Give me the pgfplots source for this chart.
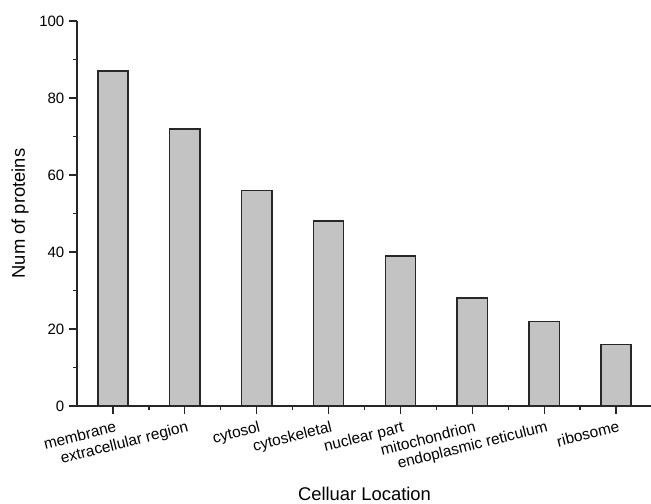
\documentclass[border=0pt]{standalone}
\usepackage{pgfplots}
\pgfplotsset{compat=1.18}
\usepackage{fontspec}
\setmainfont{Liberation Sans}
\definecolor{barfill}{RGB}{195,195,195}
\definecolor{barline}{RGB}{40,40,40}
\begin{document}
\begin{tikzpicture}
\begin{axis}[
 scale only axis, width=431.25pt, height=288.75pt,
 xmin=-0.5, xmax=7.5, ymin=0, ymax=100,
 axis x line*=bottom, axis y line*=left,
 axis line style={line width=1pt, color=black!85},
 xtick={0,...,7},
 xticklabels={membrane, extracellular region, cytosol, cytoskeletal, nuclear part, mitochondrion, endoplasmic reticulum, ribosome},
 minor x tick num=1, ytick={0,20,...,100}, minor y tick num=1,
 tick align=outside, major tick length=6pt, minor tick length=3pt,
 every tick/.style={black!85, line width=1pt},
 xticklabel style={font=\fontsize{11.6}{12}\selectfont, rotate=14, anchor=north east, inner sep=0pt, yshift=-5pt},
 yticklabel style={font=\fontsize{11.25}{12}\selectfont},
 /pgf/number format/assume math mode=true,
 xlabel={Celluar Location}, ylabel={Num of proteins},
 every axis x label/.style={at={(axis description cs:0.5,-0.2442)}, anchor=base, font=\fontsize{13.8}{15}\selectfont},
 every axis y label/.style={at={(axis description cs:-0.0991,0.5)}, rotate=90, anchor=center, font=\fontsize{13.8}{15}\selectfont},
 ybar, bar width=0.42,
]
\addplot[fill=barfill, draw=barline, line width=1.1pt] coordinates {(0,87) (1,72) (2,56) (3,48) (4,39) (5,28) (6,22) (7,16)};
\end{axis}
\pgfresetboundingbox
\path (-57.75pt,-73.5pt) rectangle (430.5pt,304.5pt);
\end{tikzpicture}
\end{document}
